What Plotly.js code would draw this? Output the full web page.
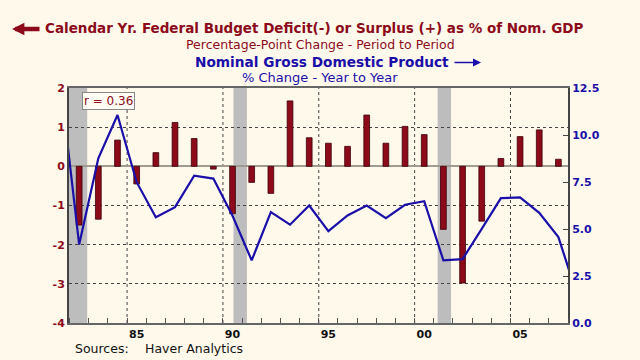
<!DOCTYPE html>
<html>
<head>
<meta charset="utf-8">
<script src="https://cdn.plot.ly/plotly-3.0.1.min.js"></script>
<style>html,body{margin:0;padding:0;background:#FFF9EC;}#chart{width:640px;height:360px;}</style>
</head>
<body>
<div id="chart"></div>
<script>
const years = [1981,1982,1983,1984,1985,1986,1987,1988,1989,1990,1991,1992,1993,1994,1995,1996,1997,1998,1999,2000,2001,2002,2003,2004,2005,2006,2007,2008];
const deficitChange = [null,-1.50,-1.35,0.67,-0.45,0.35,1.12,0.71,-0.07,-1.21,-0.41,-0.69,1.67,0.73,0.59,0.51,1.31,0.59,1.02,0.81,-1.61,-2.98,-1.40,0.20,0.76,0.93,0.18,null];
const gdpGrowth = [13.0,4.17,8.76,11.06,7.49,5.63,6.16,7.84,7.68,5.70,3.33,5.90,5.23,6.25,4.89,5.72,6.25,5.58,6.29,6.48,3.33,3.40,5.01,6.64,6.68,5.86,4.57,1.4];
const recessionStart = [1981.5, 1990.55, 2001.2];
const recessionEnd = [1982.92, 1991.25, 2001.9];
const gridYears = [1985,1990,1995,2000,2005];
const xTickText = ['85','90','95','00','05'];
const leftTickVals = [-4,-3,-2,-1,0,1,2];
const leftTickText = ['-4','-3','-2','-1','0','1','2'];
const rightTickVals = [0,2.5,5,7.5,10,12.5];
const rightTickText = ['0.0','2.5','5.0','7.5','10.0','12.5'];
const correlationText = 'r = 0.36';

const xPos = years.map(y => y + 0.5);
const xTickVals = gridYears.map(y => y + 0.5);
const RED = '#8C0A1A';
const BLUE = '#1A0FA8';
const FONT = 'DejaVu Sans, Verdana, sans-serif';

const shapes = recessionStart.map((s, i) => ({
  type: 'rect', xref: 'x', yref: 'paper', x0: s, x1: recessionEnd[i], y0: 0, y1: 1,
  fillcolor: '#BDBDBD', line: {width: 0}, layer: 'below'
})).concat(gridYears.map(g => ({
  type: 'line', xref: 'x', yref: 'paper', x0: g, x1: g, y0: 0, y1: 1,
  line: {color: '#444', width: 1, dash: 'dot'}, layer: 'below'
})));

const px = v => (v - 69) / 499;
const py = v => (323 - v) / 235;

const traces = [
  {type: 'bar', x: xPos, y: deficitChange, yaxis: 'y', width: 0.3,
   marker: {color: RED, line: {color: '#3A0008', width: 0.8}}, hoverinfo: 'skip'},
  {type: 'scatter', mode: 'lines', x: xPos, y: gdpGrowth, yaxis: 'y2',
   line: {color: BLUE, width: 2.2}, hoverinfo: 'skip'}
];

const layout = {
  width: 640, height: 360,
  margin: {l: 69, r: 72, t: 88, b: 37},
  paper_bgcolor: '#FFF9EC', plot_bgcolor: '#FFF9EC',
  showlegend: false,
  font: {family: FONT},
  xaxis: {
    range: [1981.97, 2008.0], tickvals: xTickVals, ticktext: xTickText,
    showgrid: false, ticks: '',
    minor: {tickmode: 'linear', tick0: 1982, dtick: 1, ticks: 'inside', ticklen: 5, tickcolor: '#555', tickwidth: 1, showgrid: false},
    showline: true, linecolor: '#666', linewidth: 2, mirror: true,
    tickfont: {family: FONT, size: 11, color: '#111', weight: 'bold'},
    zeroline: false, fixedrange: true
  },
  yaxis: {
    range: [-4, 2], tickvals: leftTickVals, ticktext: leftTickText,
    showgrid: true, gridcolor: '#444', griddash: 'dot', gridwidth: 1,
    zeroline: true, zerolinecolor: '#A09A90', zerolinewidth: 2,
    showline: true, linecolor: '#444', linewidth: 2, ticks: '',
    tickfont: {family: FONT, size: 11, color: RED, weight: 'bold'},
    fixedrange: true
  },
  yaxis2: {
    overlaying: 'y', side: 'right', range: [0, 12.5],
    tickvals: rightTickVals, ticktext: rightTickText,
    showgrid: false, zeroline: false,
    showline: true, linecolor: '#444', linewidth: 2,
    ticks: 'inside', ticklen: 5, tickcolor: '#444',
    tickfont: {family: FONT, size: 11, color: BLUE, weight: 'bold'},
    fixedrange: true
  },
  shapes: shapes,
  annotations: [
    {xref: 'paper', yref: 'paper', x: px(43), y: py(28.5), xanchor: 'left', yanchor: 'middle', showarrow: false,
     text: 'Calendar Yr. Federal Budget Deficit(-) or Surplus (+) as % of Nom. GDP',
     font: {family: FONT, size: 13.5, color: RED, weight: 'bold'}},
    {xref: 'paper', yref: 'paper', x: px(320.5), y: py(44.5), xanchor: 'center', yanchor: 'middle', showarrow: false,
     text: 'Percentage-Point Change - Period to Period',
     font: {family: FONT, size: 12.5, color: RED}},
    {xref: 'paper', yref: 'paper', x: px(451), y: py(61.5), xanchor: 'right', yanchor: 'middle', showarrow: false,
     text: 'Nominal Gross Domestic Product',
     font: {family: FONT, size: 13.7, color: BLUE, weight: 'bold'}},
    {xref: 'paper', yref: 'paper', x: px(320), y: py(77.5), xanchor: 'center', yanchor: 'middle', showarrow: false,
     text: '% Change - Year to Year',
     font: {family: FONT, size: 13, color: BLUE}},
    {xref: 'paper', yref: 'paper', x: px(12), y: py(29), ax: 29, ay: 0, text: '', showarrow: true,
     arrowhead: 2, arrowsize: 0.55, arrowwidth: 4.5, arrowcolor: RED},
    {xref: 'paper', yref: 'paper', x: px(481), y: py(62.5), ax: -28, ay: 0, text: '', showarrow: true,
     arrowhead: 2, arrowsize: 1, arrowwidth: 1.6, arrowcolor: BLUE},
    {xref: 'paper', yref: 'paper', x: px(73), y: py(348), xanchor: 'left', yanchor: 'middle', showarrow: false,
     text: 'Sources:', font: {family: FONT, size: 12.5, color: '#111'}},
    {xref: 'paper', yref: 'paper', x: px(143), y: py(348), xanchor: 'left', yanchor: 'middle', showarrow: false,
     text: 'Haver Analytics', font: {family: FONT, size: 12.5, color: '#111'}},
    {xref: 'paper', yref: 'paper', x: px(82), y: py(92), xanchor: 'left', yanchor: 'top', showarrow: false,
     text: correlationText, bgcolor: '#FFFCF4', bordercolor: '#888', borderwidth: 1, borderpad: 1,
     font: {family: FONT, size: 12, color: RED}}
  ]
};

Plotly.newPlot('chart', traces, layout, {staticPlot: true, displayModeBar: false});
</script>
</body>
</html>
